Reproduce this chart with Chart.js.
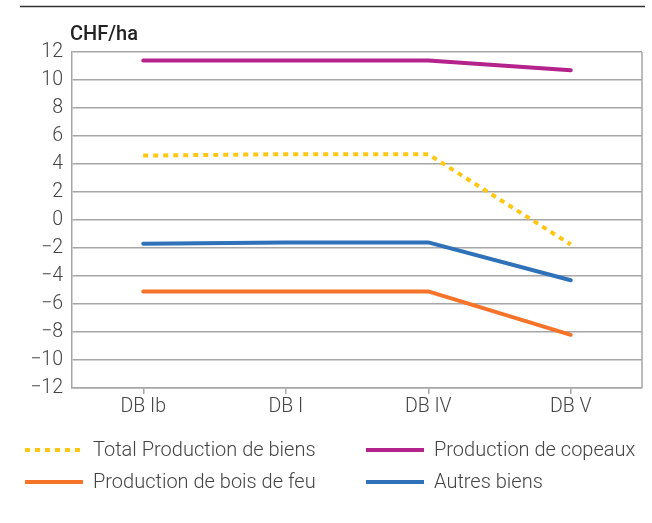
<!DOCTYPE html>
<html>
<head>
<meta charset="utf-8">
<script src="https://cdn.jsdelivr.net/npm/chart.js@4"></script>
<style>
  html, body { margin: 0; padding: 0; background: #fff; }
  #wrap { width: 652px; height: 523px; }
</style>
</head>
<body>
<div id="wrap"><canvas id="chart" width="652" height="523"></canvas></div>
<script>
// données
const categories = ['DB Ib', 'DB I', 'DB IV', 'DB V'];
const yTicks = [-12, -10, -8, -6, -4, -2, 0, 2, 4, 6, 8, 10, 12];
const totalBiens = [4.6, 4.7, 4.7, -1.75];
const copeaux = [11.4, 11.4, 11.4, 10.7];
const boisDeFeu = [-5.1, -5.1, -5.1, -8.2];
const autresBiens = [-1.7, -1.6, -1.6, -4.3];

const FONT = 'Roboto, "Noto Sans", sans-serif';
const TXT = '#444';

// tracé de la légende en 2 colonnes + filet du haut + titre d'axe
const decor = {
  id: 'decor',
  beforeDatasetsDraw(chart) {
    const { ctx, chartArea: a } = chart;
    ctx.save();
    ctx.strokeStyle = '#a6a6a6';
    ctx.lineWidth = 1.5;
    ctx.beginPath();
    ctx.moveTo(a.right, a.top);
    ctx.lineTo(a.right, a.bottom);
    ctx.stroke();
    ctx.restore();
  },
  afterDraw(chart) {
    const { ctx } = chart;
    ctx.save();
    // filet du haut
    ctx.strokeStyle = '#333';
    ctx.lineWidth = 1.5;
    ctx.beginPath();
    ctx.moveTo(20, 6.5);
    ctx.lineTo(645, 6.5);
    ctx.stroke();

    // unité
    ctx.fillStyle = '#222';
    ctx.font = '500 20px ' + FONT;
    ctx.textBaseline = 'middle';
    ctx.fillText('CHF/ha', 70, 35);

    // légende
    const cols = [25, 366];
    const rows = [450, 482];
    ctx.font = '300 20px ' + FONT;
    chart.data.datasets.forEach((ds, i) => {
      const x = cols[i % 2], y = rows[Math.floor(i / 2)];
      ctx.strokeStyle = ds.borderColor;
      ctx.lineWidth = 4;
      ctx.lineCap = 'butt';
      ctx.setLineDash(ds.borderDash || []);
      ctx.beginPath();
      ctx.moveTo(x, y);
      ctx.lineTo(x + 58, y);
      ctx.stroke();
      ctx.setLineDash([]);
      ctx.fillStyle = TXT;
      ctx.textBaseline = 'middle';
      ctx.fillText(ds.label, x + 68, y + 1);
    });
    ctx.restore();
  }
};

new Chart(document.getElementById('chart'), {
  type: 'line',
  data: {
    labels: categories,
    datasets: [
      { label: 'Total Production de biens', data: totalBiens, borderColor: '#ffc711', borderDash: [5, 5], borderCapStyle: 'butt' },
      { label: 'Production de copeaux', data: copeaux, borderColor: '#b4228b', borderCapStyle: 'round' },
      { label: 'Production de bois de feu', data: boisDeFeu, borderColor: '#f5742a', borderCapStyle: 'round' },
      { label: 'Autres biens', data: autresBiens, borderColor: '#2f72b9', borderCapStyle: 'round' }
    ].map(d => Object.assign({ borderWidth: 4, pointRadius: 0, tension: 0, fill: false, borderJoinStyle: 'round' }, d))
  },
  options: {
    responsive: false,
    animation: false,
    layout: { padding: { left: 0, right: 10, top: 52, bottom: 105 } },
    plugins: { legend: { display: false }, tooltip: { enabled: false } },
    scales: {
      x: {
        offset: true,
        grid: { display: true, drawOnChartArea: false, offset: false, drawTicks: true, tickLength: 6, color: '#a6a6a6', lineWidth: 1.5 },
        border: { display: true, color: '#a6a6a6', width: 1.5 },
        ticks: { color: TXT, font: { family: FONT, size: 19.5, weight: 300 }, padding: 1, maxRotation: 0 },
        afterFit(s) { s.height = 30; }
      },
      y: {
        min: yTicks[0],
        max: yTicks[yTicks.length - 1],
        afterBuildTicks(s) { s.ticks = yTicks.map(v => ({ value: v })); },
        grid: { color: '#a6a6a6', lineWidth: 1.5, drawTicks: false },
        border: { display: true, color: '#a6a6a6', width: 1.5 },
        ticks: {
          color: TXT, font: { family: FONT, size: 19.5, weight: 300 }, padding: 9,
          callback: v => String(v).replace('-', '\u2212')
        },
        afterFit(s) { s.width = 72; }
      }
    }
  },
  plugins: [decor]
});
</script>
</body>
</html>
